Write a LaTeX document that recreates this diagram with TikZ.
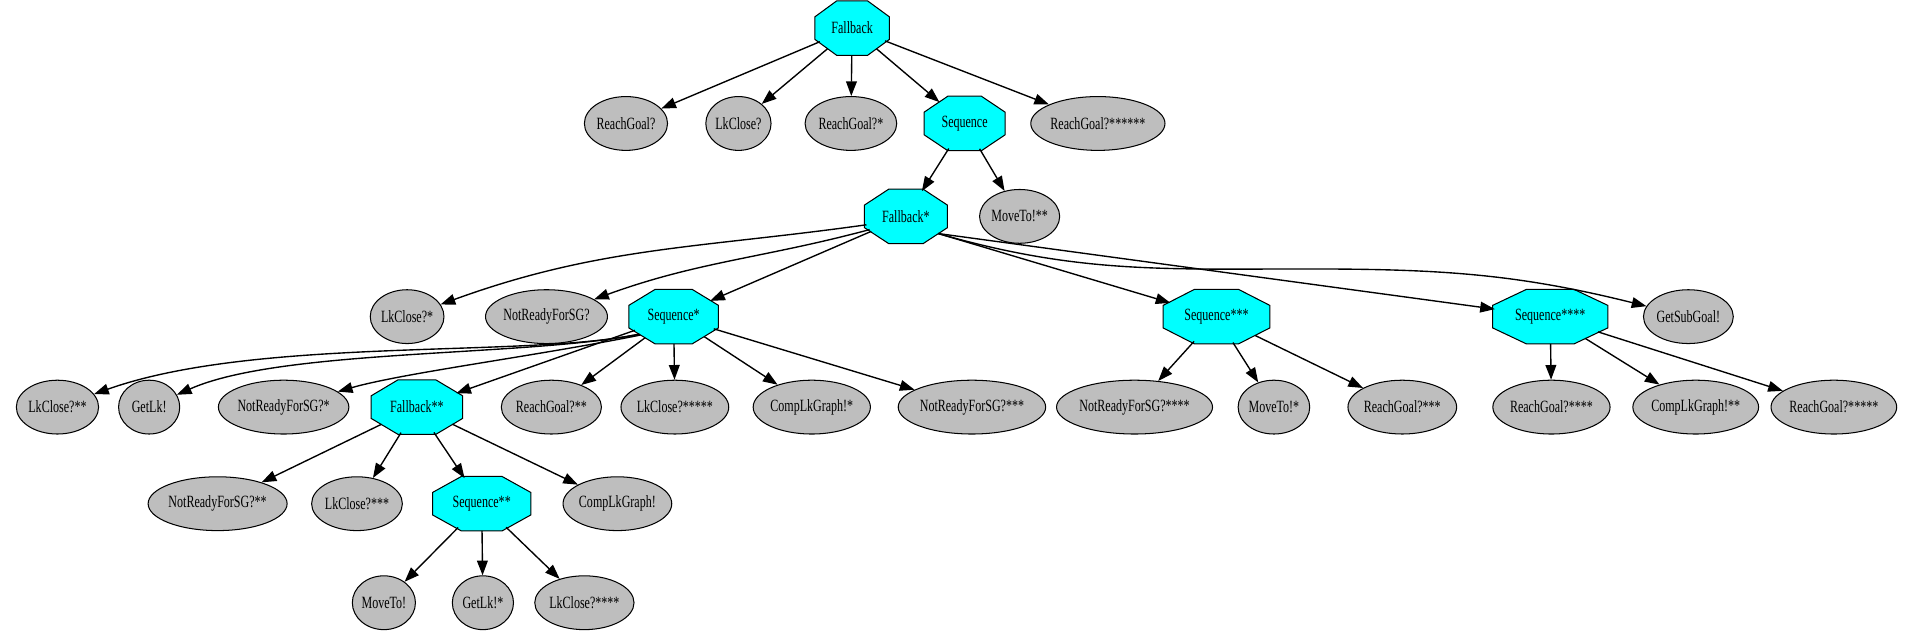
\documentclass[tikz,border=0pt]{standalone}
\usepackage{fontspec}
\setmainfont{Liberation Serif}[FakeStretch=0.7]
\usetikzlibrary{calc,shapes.geometric,arrows.meta,backgrounds}
\definecolor{leafgray}{HTML}{BEBEBE}
\definecolor{ctrlcyan}{HTML}{00FFFF}
\tikzset{
  leaf/.style={ellipse, draw, fill=leafgray, line width=0.6pt, inner xsep=0pt, inner ysep=0pt,
    minimum height=1.1cm, minimum width=1.25cm, font=\fontsize{10}{12}\selectfont},
  % control nodes: the octagon itself is drawn on the background layer
  ctrl/.style={ellipse, inner xsep=0.11cm, inner ysep=0pt, minimum height=1.1cm, font=\fontsize{10}{12}\selectfont},
  octa/.style={fill=ctrlcyan, draw=black, line width=0.6pt},
  link/.style={-{Triangle[length=0.3cm,width=0.22cm]}, line width=0.8pt}
}
\begin{document}
\begin{tikzpicture}[x=0.025cm, y=0.025cm]
      \useasboundingbox (0,0) rectangle (1568,519);

      % Draw the control nodes
      \node[ctrl] (fb0) at (697,496) {Fallback};
      \node[ctrl] (sq0) at (789,418) {Sequence};
      \node[ctrl] (fb1) at (741,342) {Fallback*};
      \node[ctrl] (sq1) at (551,260) {Sequence*};
      \node[ctrl] (sq3) at (995,260) {Sequence***};
      \node[ctrl] (sq4) at (1268,260) {Sequence****};
      \node[ctrl] (fb2) at (341,186) {Fallback**};
      \node[ctrl] (sq2) at (394,107) {Sequence**};

      % Octagons behind them
      \begin{pgfonlayer}{background}
      \foreach \c in {fb0,sq0,fb1,sq1,sq3,sq4,fb2,sq2} {
          \filldraw[octa] let \p1=(\c.center), \p2=(\c.east), \p3=(\c.north),
              \n1={\x2-\x1}, \n2={\y3-\y1} in
              (\x1+\n1,\y1+0.414*\n2) -- (\x1+0.414*\n1,\y1+\n2) -- (\x1-0.414*\n1,\y1+\n2)
              -- (\x1-\n1,\y1+0.414*\n2) -- (\x1-\n1,\y1-0.414*\n2) -- (\x1-0.414*\n1,\y1-\n2)
              -- (\x1+0.414*\n1,\y1-\n2) -- (\x1+\n1,\y1-0.414*\n2) -- cycle;
      }
      \end{pgfonlayer}

      % Draw the leaves, row by row
      \foreach \n/\x/\t in {rg1/512/ReachGoal?, lc0/604/LkClose?, rg2/696/ReachGoal?*, rg7/898/ReachGoal?******} {
          \node[leaf] (\n) at (\x,418) {\t};
      }
      \node[leaf] (mt3) at (834,342) {MoveTo!**};
      \foreach \n/\x/\t in {lc1/333/LkClose?*, nr0/447/NotReadyForSG?, gs/1381/GetSubGoal!} {
          \node[leaf] (\n) at (\x,260) {\t};
      }
      \foreach \n/\x/\t in {lc2/47/LkClose?**, gl0/122/GetLk!, nr1/232/NotReadyForSG?*, rg3/451/ReachGoal?**,
          lc5/552/LkClose?*****, cg1/664/CompLkGraph!*, nr3/795/NotReadyForSG?***, nr4/928/NotReadyForSG?****,
          mt1/1042/MoveTo!*, rg4/1147/ReachGoal?***, rg5/1269/ReachGoal?****, cg2/1387/CompLkGraph!**,
          rg6/1500/ReachGoal?*****} {
          \node[leaf] (\n) at (\x,186) {\t};
      }
      \foreach \n/\x/\t in {nr2/178/NotReadyForSG?**, lc3/292/LkClose?***, cg0/505/CompLkGraph!} {
          \node[leaf] (\n) at (\x,107) {\t};
      }
      \foreach \n/\x/\t in {mt0/314/MoveTo!, gl1/395/GetLk!*, lc4/478/LkClose?****} {
          \node[leaf] (\n) at (\x,26) {\t};
      }

      % Straight edges
      \foreach \a/\b in {fb0/rg1, fb0/lc0, fb0/rg2, fb0/sq0, fb0/rg7, sq0/fb1, sq0/mt3,
          fb1/sq1, sq1/fb2, sq1/rg3, sq1/lc5, sq1/cg1, sq1/nr3,
          sq3/nr4, sq3/mt1, sq3/rg4, sq4/rg5, sq4/cg2, sq4/rg6,
          fb2/nr2, fb2/lc3, fb2/sq2, fb2/cg0, sq2/mt0, sq2/gl1, sq2/lc4} {
          \draw[link] (\a) -- (\b);
      }
      \draw[link] (fb1.-28) -- (sq3);
      \draw[link] (fb1.-28) -- (sq4);

      % Curved edges
      \coordinate (gsdip) at (1070,299);
      \draw[link] (fb1.192) to[out=188,in=20] (lc1);
      \draw[link] (fb1.200) to[out=195,in=20] (nr0);
      \draw[link] (fb1.-28) to[out=-16,in=180] (gsdip) to[out=0,in=166] (gs);
      \draw[link] (sq1.207) .. controls (430,226) and (210,244) .. (lc2);
      \draw[link] (sq1.207) .. controls (430,227) and (230,234) .. (gl0);
      \draw[link] (sq1.209) .. controls (440,228) and (330,214) .. (nr1);

    \end{tikzpicture}
\end{document}
